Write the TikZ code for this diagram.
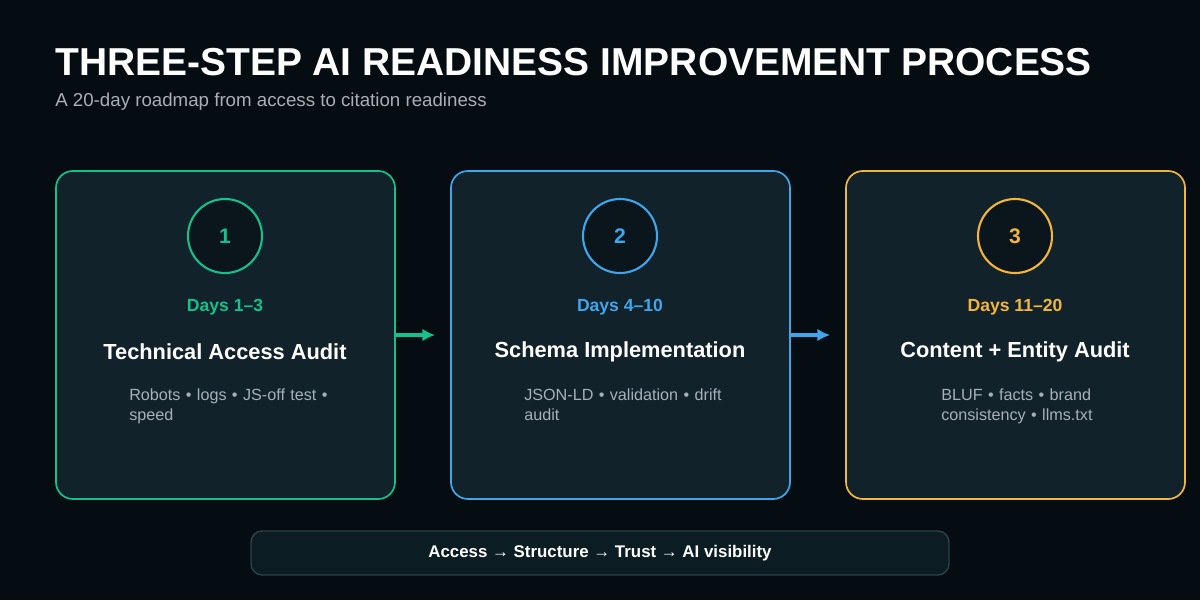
\documentclass[tikz,border=0pt]{standalone}
\usepackage{fontspec}
\setmainfont{Liberation Sans}
\usetikzlibrary{arrows.meta}
\definecolor{bg}{HTML}{060D12}
\definecolor{card}{HTML}{12222B}
\definecolor{stepA}{HTML}{14C08C}
\definecolor{stepB}{HTML}{3FA6EC}
\definecolor{stepC}{HTML}{F2B63A}
\definecolor{note}{HTML}{A6B0B8}
\definecolor{bar}{HTML}{0B1C22}
\definecolor{barline}{HTML}{2C424B}
\newcommand\nohyph{\hyphenpenalty 10000 \exhyphenpenalty 10000 }
\begin{document}
\begin{tikzpicture}[x=0.025cm,y=-0.025cm,
    box/.style={draw,line width=1.2pt,fill=card,rounded corners=12pt,minimum width=339*0.025cm,minimum height=328*0.025cm},
    num/.style={draw,circle,line width=1.5pt,minimum size=74*0.025cm,font=\bfseries\fontsize{15}{18}\selectfont},
    days/.style={font=\bfseries\fontsize{12.5}{15}\selectfont},
    head/.style={text=white,font=\bfseries\fontsize{15.5}{19}\selectfont},
    desc/.style={text=note,font=\fontsize{11.5}{14.5}\selectfont,text width=205*0.025cm,align=left,anchor=north west,inner sep=0pt},
    flow/.style={line width=2.2pt,-{Latex[length=9pt,width=9pt]}}]
    \fill[bg] (0,0) rectangle (1200,600);

    \node (title) [anchor=west,text=white,font=\bfseries\fontsize{27.7}{32}\selectfont,inner sep=0pt] at (55,62) {THREE-STEP AI READINESS IMPROVEMENT PROCESS};
    \node (sub) [anchor=west,text=note,font=\fontsize{13.3}{16}\selectfont,inner sep=0pt] at (55,102) {A 20-day roadmap from access to citation readiness};

    % step cards
    \node (c1) [box,draw=stepA] at (225.5,335) {};
    \node (c2) [box,draw=stepB] at (620.5,335) {};
    \node (c3) [box,draw=stepC] at (1015.5,335) {};

    \node (n1) [num,draw=stepA,text=stepA,fill=bg!60!card] at (225,236) {1};
    \node (n2) [num,draw=stepB,text=stepB,fill=bg!60!card] at (620,236) {2};
    \node (n3) [num,draw=stepC,text=stepC,fill=bg!60!card] at (1015,236) {3};

    \node (d1) [days,text=stepA] at (225,307) {Days 1–3};
    \node (d2) [days,text=stepB] at (620,307) {Days 4–10};
    \node (d3) [days,text=stepC] at (1015,307) {Days 11–20};

    \node (h1) [head] at (225,352) {Technical Access Audit};
    \node (h2) [head] at (620,352) {Schema Implementation};
    \node (h3) [head] at (1015,352) {Content + Entity Audit};

    \node (t1) [desc] at (129,388) {\nohyph Robots • logs • JS-off test • speed};
    \node (t2) [desc] at (524,388) {\nohyph JSON-LD • validation • drift audit};
    \node (t3) [desc,text width=165*0.025cm] at (941,388) {\nohyph BLUF • facts • brand consistency • llms.txt};

    \coordinate (a1) at (435,335);
    \coordinate (a2) at (830,335);
    \draw[flow,draw=stepA,fill=stepA,line width=2.2pt] (c1.east) -- (a1);
    \draw[flow,draw=stepB,fill=stepB,line width=2.2pt] (c2.east) -- (a2);

    % summary bar
    \node (sum) [draw=barline,line width=1pt,fill=bar,rounded corners=8pt,minimum width=698*0.025cm,minimum height=44*0.025cm,text=white,font=\bfseries\fontsize{12}{14}\selectfont] at (600,553) {Access → Structure → Trust → AI visibility};
\end{tikzpicture}
\end{document}
